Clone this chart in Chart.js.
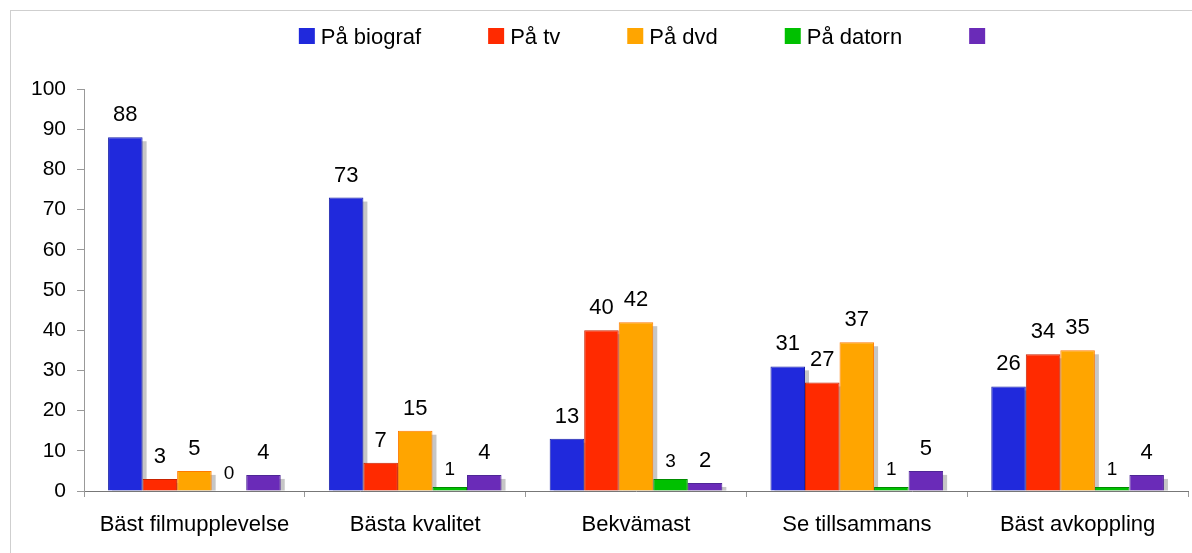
<!DOCTYPE html>
<html><head><meta charset="utf-8">
<script src="https://cdn.jsdelivr.net/npm/chart.js@4.4.1/dist/chart.umd.min.js"></script>
<style>
html,body{margin:0;padding:0;background:#fff;}
#wrap{position:relative;width:1192px;height:553px;overflow:hidden;background:#fff;}
#frame{position:absolute;left:10px;top:10px;width:1300px;height:700px;border-top:1px solid #cfcfcf;border-left:1px solid #cfcfcf;}
canvas{position:absolute;left:0;top:0;}
</style></head><body>
<div id="wrap"><div id="frame"></div><canvas id="c" width="1192" height="553"></canvas></div>
<script>
const categories = ['Bäst filmupplevelse', 'Bästa kvalitet', 'Bekvämast', 'Se tillsammans', 'Bäst avkoppling'];
const seriesNames = ['På biograf', 'På tv', 'På dvd', 'På datorn', ''];
const biograf = [88, 73, 13, 31, 26];
const tv = [3, 7, 40, 27, 34];
const dvd = [5, 15, 42, 37, 35];
const datorn = [0, 1, 3, 1, 1];
const ovrigt = [4, 4, 2, 5, 4];
const yTicks = [0, 10, 20, 30, 40, 50, 60, 70, 80, 90, 100];

const fills = ['#2029DC', '#FF2A00', '#FFA500', '#00C000', '#6A2BB8'];
const borders = ['#1B22A8', '#C82200', '#FF7A00', '#008C00', '#4E2796'];
const FONT = "'Liberation Sans', Arial, sans-serif";

const seriesData = [biograf, tv, dvd, datorn, ovrigt];
const datasets = seriesData.map((d, i) => ({
  label: seriesNames[i],
  data: d,
  backgroundColor: fills[i],
  borderColor: borders[i],
  borderWidth: 1,
  borderSkipped: 'start',
  categoryPercentage: 0.782,
  barPercentage: 1.0
}));

const shadowPlugin = {
  id: 'shadow',
  beforeDatasetsDraw(chart) {
    const ctx = chart.ctx, a = chart.chartArea;
    ctx.save();
    ctx.beginPath(); ctx.rect(a.left, a.top - 20, a.right - a.left + 10, a.bottom - a.top + 20); ctx.clip();
    ctx.fillStyle = '#c6c6c6';
    chart.data.datasets.forEach((ds, di) => {
      const meta = chart.getDatasetMeta(di);
      meta.data.forEach(el => {
        const p = el.getProps(['x', 'y', 'base', 'width'], true);
        if (p.base - p.y < 1) return;
        ctx.fillRect(p.x - p.width / 2 + 4, p.y + 4, p.width, p.base - p.y - 4);
      });
    });
    ctx.restore();
  }
};

const valuePlugin = {
  id: 'values',
  afterDatasetsDraw(chart) {
    const ctx = chart.ctx;
    ctx.save();
    ctx.fillStyle = '#000';
    ctx.textAlign = 'center';
    ctx.textBaseline = 'alphabetic';
    chart.data.datasets.forEach((ds, di) => {
      const meta = chart.getDatasetMeta(di);
      const small = di === 3;
      ctx.font = (small ? '19px ' : '22px ') + FONT;
      meta.data.forEach((el, i) => {
        const p = el.getProps(['x', 'y'], true);
        ctx.fillText(String(ds.data[i]), p.x, p.y - (small ? 12 : 16));
      });
    });
    ctx.restore();
  }
};

const legendPlugin = {
  id: 'customLegend',
  afterDraw(chart) {
    const ctx = chart.ctx, a = chart.chartArea;
    ctx.save();
    ctx.font = '22px ' + FONT;
    const box = 16, gapText = 6, gapItem = 67;
    const items = chart.data.datasets.map(ds => ({ label: ds.label, color: ds.backgroundColor, w: box + (ds.label ? gapText + ctx.measureText(ds.label).width : 0) }));
    const total = items.reduce((s, it) => s + it.w, 0) + gapItem * (items.length - 1);
    let x = (a.left + a.right) / 2 - total / 2 + 6;
    ctx.textBaseline = 'alphabetic';
    ctx.textAlign = 'left';
    items.forEach(it => {
      ctx.fillStyle = it.color;
      ctx.fillRect(x, 28, box, box);
      if (it.label) {
        ctx.fillStyle = '#000';
        ctx.fillText(it.label, x + box + gapText, 44);
      }
      x += it.w + gapItem;
    });
    ctx.restore();
  }
};

new Chart(document.getElementById('c'), {
  type: 'bar',
  data: { labels: categories, datasets },
  plugins: [shadowPlugin, valuePlugin, legendPlugin],
  options: {
    responsive: false,
    devicePixelRatio: 1,
    animation: false,
    layout: { padding: { top: 89, left: 0, right: 4, bottom: 0 } },
    plugins: { legend: { display: false }, tooltip: { enabled: false } },
    scales: {
      x: {
        grid: { offset: true, drawOnChartArea: false, drawTicks: true, tickLength: 6, color: '#999' },
        border: { display: true, color: '#777', dash: [2, 2] },
        ticks: { color: '#000', font: { family: FONT, size: 22 }, padding: 15, maxRotation: 0 },
        afterFit(s) { s.height = 62; }
      },
      y: {
        min: 0, max: 100,
        afterBuildTicks(s) { s.ticks = yTicks.map(v => ({ value: v })); },
        grid: { drawOnChartArea: false, drawTicks: true, tickLength: 7, color: '#999' },
        border: { display: true, color: '#999' },
        ticks: { color: '#000', font: { family: FONT, size: 21 }, padding: 11 },
        afterFit(s) { s.width = 84; }
      }
    }
  }
});
</script>
</body></html>
